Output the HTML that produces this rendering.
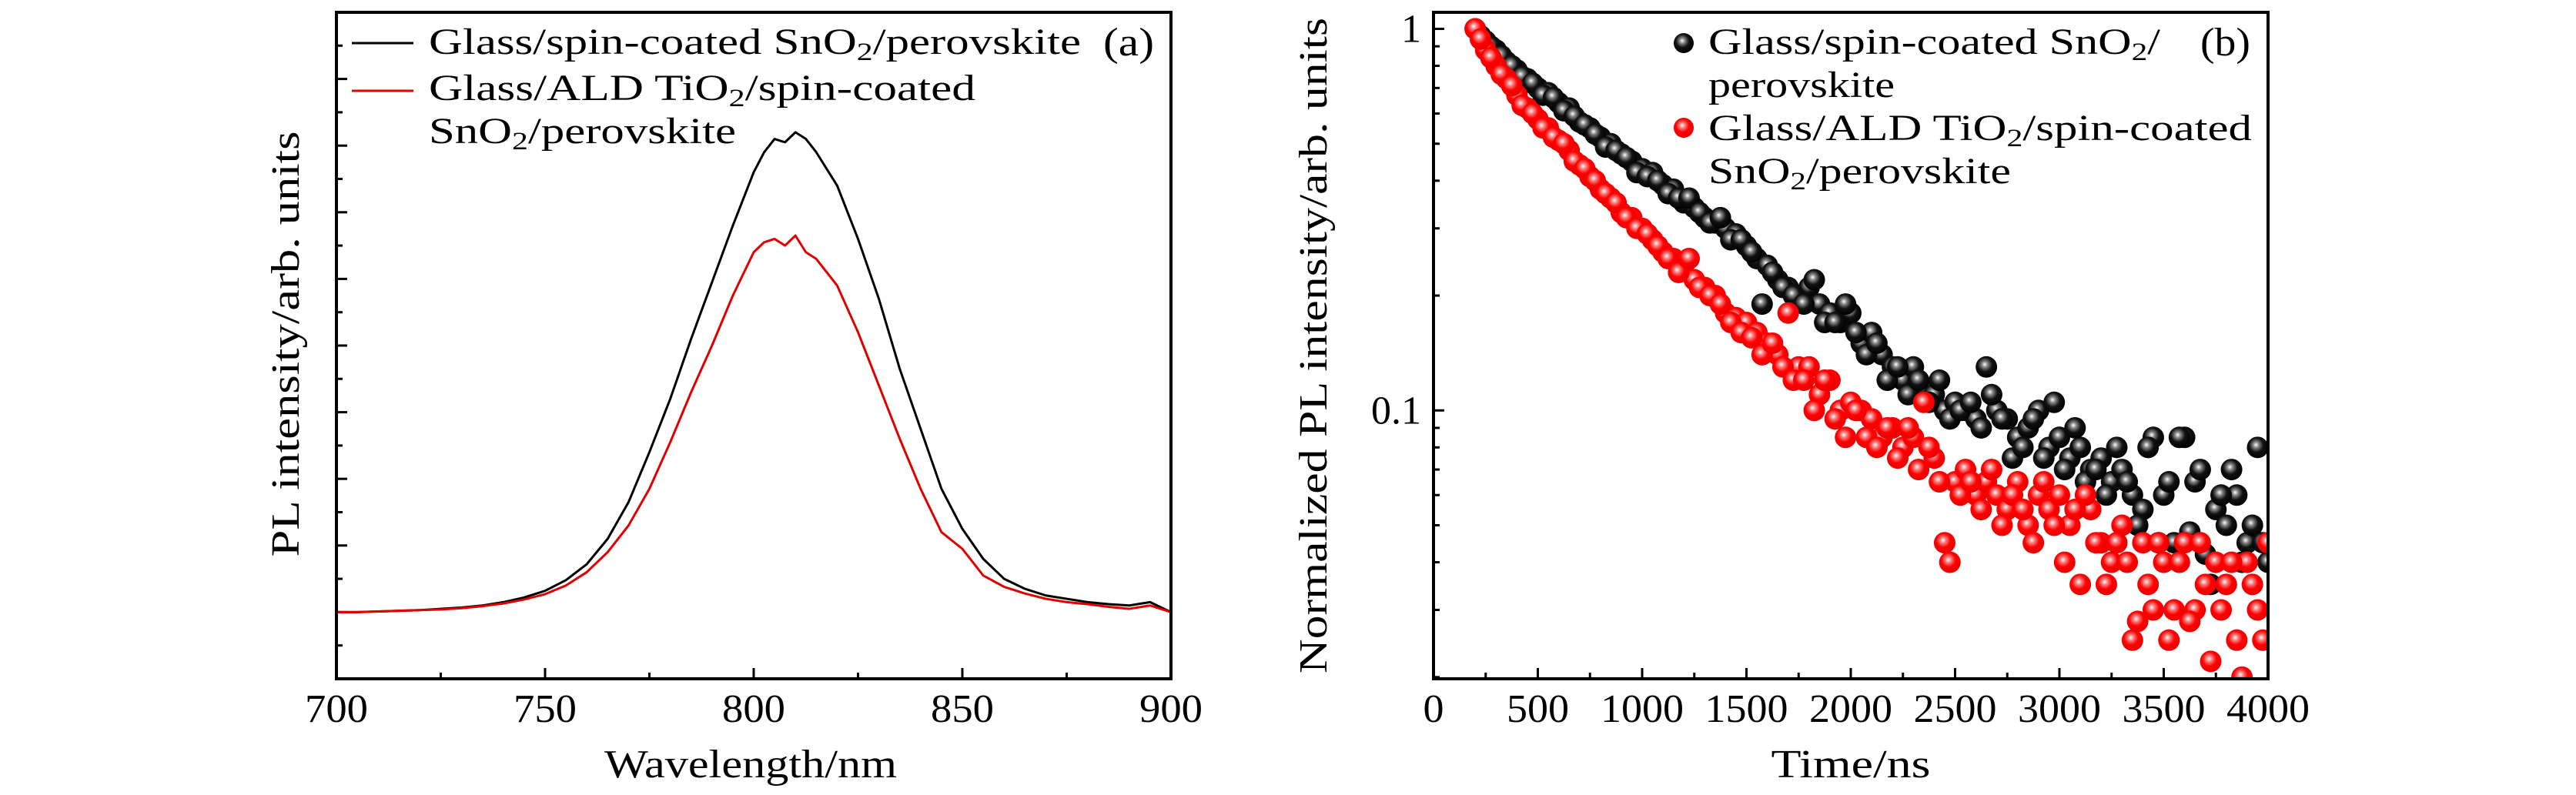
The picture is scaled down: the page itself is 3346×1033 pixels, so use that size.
<!DOCTYPE html>
<html><head><meta charset="utf-8"><style>
html,body{margin:0;padding:0;background:#fff;}
svg{display:block;font-family:"Liberation Serif",serif;}
</style></head><body>
<svg id="fig" width="3346" height="1033" viewBox="0 0 3346 1033" xmlns="http://www.w3.org/2000/svg">
<defs>
<radialGradient id="gBlack" cx="0.45" cy="0.4" r="0.6" fx="0.42" fy="0.38">
<stop offset="0" stop-color="#fff"/><stop offset="0.22" stop-color="#888"/><stop offset="0.55" stop-color="#111"/><stop offset="1" stop-color="#000"/></radialGradient>
<radialGradient id="gRed" cx="0.45" cy="0.4" r="0.6" fx="0.42" fy="0.38">
<stop offset="0" stop-color="#fff"/><stop offset="0.22" stop-color="#ff8080"/><stop offset="0.55" stop-color="#f00"/><stop offset="1" stop-color="#e80000"/></radialGradient>
<clipPath id="clipA"><rect x="437" y="16" width="1084" height="866"/></clipPath>
<clipPath id="clipB"><rect x="1862" y="16" width="1084" height="866"/></clipPath>
</defs>
<g id="panelA"></g>
<g id="panelB"></g>
</svg>
<script>
// ---- Panel (a) data: PL spectra ----
const wavelengths = [700,705,710,715,720,725,730,735,740,745,750,755,760,765,770,775,780,785,790,795,800,802.5,805,807.5,810,812.5,815,820,825,830,835,840,845,850,855,860,865,870,875,880,885,890,895,900];
const plBlack = [1.0,1.0,1.01,1.02,1.03,1.05,1.07,1.1,1.15,1.22,1.32,1.48,1.72,2.1,2.65,3.4,4.2,5.1,5.95,6.8,7.6,7.9,8.1,8.05,8.2,8.1,7.9,7.4,6.6,5.7,4.65,3.75,2.85,2.25,1.8,1.5,1.35,1.25,1.2,1.15,1.12,1.1,1.15,1.0];
const plRed   = [1.0,1.0,1.01,1.02,1.03,1.04,1.06,1.09,1.13,1.19,1.27,1.4,1.6,1.9,2.3,2.85,3.55,4.3,5.0,5.75,6.4,6.55,6.6,6.5,6.65,6.4,6.3,5.9,5.2,4.4,3.6,2.85,2.2,1.95,1.55,1.38,1.28,1.2,1.15,1.12,1.08,1.05,1.1,1.0];
const xTicksA = [700,750,800,850,900];
// ---- Panel (b) data: TRPL decay ----
const times = [200,250,300,350,400,450,500,550,600,650,700,750,800,850,900,950,1000,1050,1100,1150,1200,1250,1300,1350,1400,1450,1500,1550,1600,1650,1700,1750,1800,1850,1900,1950,2000,2050,2100,2150,2200,2250,2300,2350,2400,2450,2500,2550,2600,2650,2700,2750,2800,2850,2900,2950,3000,3050,3100,3150,3200,3250,3300,3350,3400,3450,3500,3550,3600,3650,3700,3750,3800,3850,3900,3950,4000];
const decayBlack = [1.0,0.93,0.88,0.82,0.78,0.74,0.70,0.68,0.64,0.62,0.57,0.55,0.52,0.50,0.47,0.45,0.43,0.42,0.39,0.38,0.35,0.34,0.32,0.31,0.30,0.29,0.27,0.25,0.24,0.22,0.21,0.20,0.21,0.19,0.18,0.17,0.18,0.15,0.16,0.14,0.13,0.12,0.13,0.115,0.11,0.10,0.105,0.10,0.095,0.13,0.10,0.095,0.085,0.09,0.10,0.08,0.085,0.075,0.08,0.07,0.075,0.065,0.07,0.06,0.055,0.085,0.06,0.045,0.085,0.065,0.042,0.055,0.05,0.06,0.045,0.08,0.04];
const decayRed = [1.0,0.88,0.80,0.74,0.67,0.62,0.58,0.55,0.51,0.48,0.44,0.41,0.38,0.36,0.33,0.32,0.30,0.28,0.26,0.25,0.24,0.22,0.21,0.20,0.18,0.175,0.17,0.16,0.15,0.14,0.18,0.13,0.13,0.11,0.12,0.10,0.105,0.10,0.095,0.085,0.09,0.08,0.085,0.105,0.075,0.045,0.065,0.07,0.06,0.065,0.06,0.055,0.065,0.05,0.06,0.055,0.06,0.05,0.035,0.055,0.045,0.04,0.05,0.025,0.045,0.03,0.04,0.03,0.045,0.03,0.035,0.04,0.035,0.025,0.04,0.03,0.045];
const times2 = [225,275,325,375,425,475,525,575,625,675,725,775,825,875,925,975,1025,1075,1125,1175,1225,1275,1325,1375,1425,1475,1525,1575,1625,1675,1725,1775,1825,1875,1925,1975,2025,2075,2125,2175,2225,2275,2325,2375,2425,2475,2525,2575,2625,2675,2725,2775,2825,2875,2925,2975,3025,3075,3125,3175,3225,3275,3325,3375,3425,3475,3525,3575,3625,3675,3725,3775,3825,3875,3925,3975];
const decayBlack2 = [0.96,0.90,0.85,0.80,0.75,0.72,0.67,0.66,0.61,0.59,0.56,0.53,0.49,0.48,0.46,0.42,0.41,0.40,0.37,0.36,0.36,0.33,0.31,0.32,0.28,0.28,0.26,0.19,0.23,0.21,0.20,0.19,0.22,0.17,0.17,0.19,0.16,0.14,0.15,0.12,0.13,0.11,0.12,0.105,0.12,0.095,0.10,0.105,0.09,0.11,0.095,0.075,0.08,0.095,0.075,0.105,0.07,0.09,0.065,0.07,0.06,0.08,0.065,0.05,0.08,0.045,0.065,0.085,0.048,0.07,0.035,0.06,0.07,0.04,0.05,0.045];
const decayRed2 = [0.94,0.84,0.76,0.71,0.63,0.60,0.55,0.52,0.50,0.45,0.43,0.40,0.37,0.35,0.32,0.30,0.29,0.27,0.25,0.23,0.25,0.21,0.20,0.19,0.17,0.16,0.155,0.14,0.15,0.13,0.12,0.12,0.10,0.12,0.095,0.085,0.10,0.085,0.08,0.09,0.075,0.09,0.07,0.08,0.065,0.04,0.06,0.065,0.055,0.07,0.05,0.06,0.055,0.045,0.065,0.05,0.04,0.055,0.06,0.045,0.035,0.045,0.04,0.028,0.035,0.045,0.025,0.04,0.028,0.045,0.022,0.03,0.04,0.02,0.035,0.025];
const xTicksB = [0,500,1000,1500,2000,2500,3000,3500,4000];
const yTicksB = [1,0.1];
const yTickLabelsB = ["1","0.1"];

const NS = "http://www.w3.org/2000/svg";
function mk(tag, attrs, parent){const e=document.createElementNS(NS,tag);for(const k in attrs)e.setAttribute(k,attrs[k]);parent.appendChild(e);return e;}

// ---------- Panel A ----------
const A = document.getElementById('panelA');
const aL=437,aR=1521,aT=16,aB=882;
const xA = v => aL + (v-700)/(900-700)*(aR-aL);
const yA = v => aB - v/10*(aB-aT);
for(let v=700; v<=900; v+=25){
  const major = v%50===0;
  const t = mk('line',{x1:xA(v),x2:xA(v),y1:aB,y2:aB-(major?14:8),stroke:'#000','stroke-width':3},A);
  
  
}
for(let v=0.5; v<10; v+=0.5){
  const major = Math.abs(v-Math.round(v))<1e-6;
  const t = mk('line',{x1:aL,x2:aL+(major?14:8),y1:yA(v),y2:yA(v),stroke:'#000','stroke-width':3},A);
  
  
}
xTicksA.forEach(v=>{
  const t = mk('text',{x:xA(v),y:938,'text-anchor':'middle','font-size':52,textLength:82,lengthAdjust:'spacingAndGlyphs'},A);
  t.textContent=v;
  
  
});
function lineA(vals,color,name){
  const pts = wavelengths.map((w,i)=>xA(w)+','+yA(vals[i])).join(' ');
  const p = mk('polyline',{points:pts,fill:'none',stroke:color,'stroke-width':3,'stroke-linejoin':'round','clip-path':'url(#clipA)'},A);
  
  
}
lineA(plBlack,'#000','series-spin-coated-sno2');
lineA(plRed,'#e00000','series-ald-tio2');
const frA = mk('rect',{x:aL,y:aT,width:aR-aL,height:aB-aT,fill:'none',stroke:'#000','stroke-width':4},A);



// ---------- Panel B ----------
const B = document.getElementById('panelB');
const bL=1862,bR=2946,bT=16,bB=882;
const lmin=Math.log10(0.0198), lmax=Math.log10(1.105);
const xB = v => bL + v/4000*(bR-bL);
const yB = v => bB - (Math.log10(v)-lmin)/(lmax-lmin)*(bB-bT);
for(let v=0; v<=4000; v+=250){
  const major = v%500===0;
  const t = mk('line',{x1:xB(v),x2:xB(v),y1:bB,y2:bB-(major?14:8),stroke:'#000','stroke-width':3},B);
  
  
}
[0.02,0.03,0.04,0.05,0.06,0.07,0.08,0.09,0.1,0.2,0.3,0.4,0.5,0.6,0.7,0.8,0.9,1].forEach(v=>{
  const major = (v===0.1||v===1);
  const t = mk('line',{x1:bL,x2:bL+(major?14:8),y1:yB(v),y2:yB(v),stroke:'#000','stroke-width':3},B);
  
  
});
xTicksB.forEach(v=>{
  const len = String(v).length*27;
  const t = mk('text',{x:xB(v),y:938,'text-anchor':'middle','font-size':52,textLength:len,lengthAdjust:'spacingAndGlyphs'},B);
  t.textContent=v;
  
  
});
yTicksB.forEach((v,i)=>{
  const t = mk('text',{x:1846,y:yB(v)+17,'text-anchor':'end','font-size':52},B);
  t.textContent=yTickLabelsB[i];
  
  
});
const gB = mk('g',{'clip-path':'url(#clipB)'},B);


function scatterB(ts,vals,fill,name){
  ts.forEach((t,i)=>{
    const c = mk('circle',{cx:xB(t),cy:yB(vals[i]),r:14,fill:fill},gB);
    
    
  });
}
scatterB(times,decayBlack,'url(#gBlack)','point-spin-coated-sno2');
scatterB(times2,decayBlack2,'url(#gBlack)','point-spin-coated-sno2');
scatterB(times,decayRed,'url(#gRed)','point-ald-tio2');
scatterB(times2,decayRed2,'url(#gRed)','point-ald-tio2');
const frB = mk('rect',{x:bL,y:bT,width:bR-bL,height:bB-bT,fill:'none',stroke:'#000','stroke-width':4},B);


</script>
<script>
(function(){
const NS="http://www.w3.org/2000/svg";
const svg=document.getElementById('fig');
function T(x,y,txt,name,extra){const t=document.createElementNS(NS,'text');t.setAttribute('x',x);t.setAttribute('y',y);t.setAttribute('font-size',48);for(const k in (extra||{}))t.setAttribute(k,extra[k]);t.innerHTML=txt;svg.appendChild(t);


return t;}
const sub='<tspan font-size="33" dy="8">2</tspan><tspan dy="-8">';
const fit=(n)=>({textLength:n,lengthAdjust:'spacingAndGlyphs'});
T(975,1010,'Wavelength/nm','x-axis-title-a',Object.assign({'text-anchor':'middle','font-size':52},fit(380)));
T(2404,1010,'Time/ns','x-axis-title-b',Object.assign({'text-anchor':'middle','font-size':52},fit(207)));
T(0,0,'PL intensity/arb. units','y-axis-title-a',Object.assign({'text-anchor':'middle','font-size':52,transform:'translate(388,447) rotate(-90)'},fit(553)));
T(0,0,'Normalized PL intensity/arb. units','y-axis-title-b',Object.assign({'text-anchor':'middle','font-size':52,transform:'translate(1723,449) rotate(-90)'},fit(852)));
T(1433,72,'(a)','panel-label-a',Object.assign({'font-size':52},fit(66)));
T(2858,72,'(b)','panel-label-b',Object.assign({'font-size':52},fit(65)));
const la=document.createElementNS(NS,'line');la.setAttribute('x1',457);la.setAttribute('x2',537);la.setAttribute('y1',56);la.setAttribute('y2',56);la.setAttribute('stroke','#000');la.setAttribute('stroke-width',3);svg.appendChild(la);


const lb=document.createElementNS(NS,'line');lb.setAttribute('x1',457);lb.setAttribute('x2',537);lb.setAttribute('y1',118);lb.setAttribute('y2',118);lb.setAttribute('stroke','#e00000');lb.setAttribute('stroke-width',3);svg.appendChild(lb);


T(557,70,'Glass/spin-coated SnO'+sub+'/perovskite</tspan>','legend-entry-a-black',fit(847));
T(557,130,'Glass/ALD TiO'+sub+'/spin-coated</tspan>','legend-entry-a-red',fit(710));
T(557,186,'SnO'+sub+'/perovskite</tspan>','legend-entry-a-red-2',fit(399));
[['url(#gBlack)',56,'legend-marker-black'],['url(#gRed)',166,'legend-marker-red']].forEach(m=>{
const c=document.createElementNS(NS,'circle');c.setAttribute('cx',2187);c.setAttribute('cy',m[1]);c.setAttribute('r',13);c.setAttribute('fill',m[0]);svg.appendChild(c);


});
T(2219,70,'Glass/spin-coated SnO'+sub+'/</tspan>','legend-entry-b-black',fit(587));
T(2219,126,'perovskite','legend-entry-b-black-2',fit(242));
T(2219,182,'Glass/ALD TiO'+sub+'/spin-coated</tspan>','legend-entry-b-red',fit(706));
T(2219,238,'SnO'+sub+'/perovskite</tspan>','legend-entry-b-red-2',fit(393));
})();
</script>
</body></html>
